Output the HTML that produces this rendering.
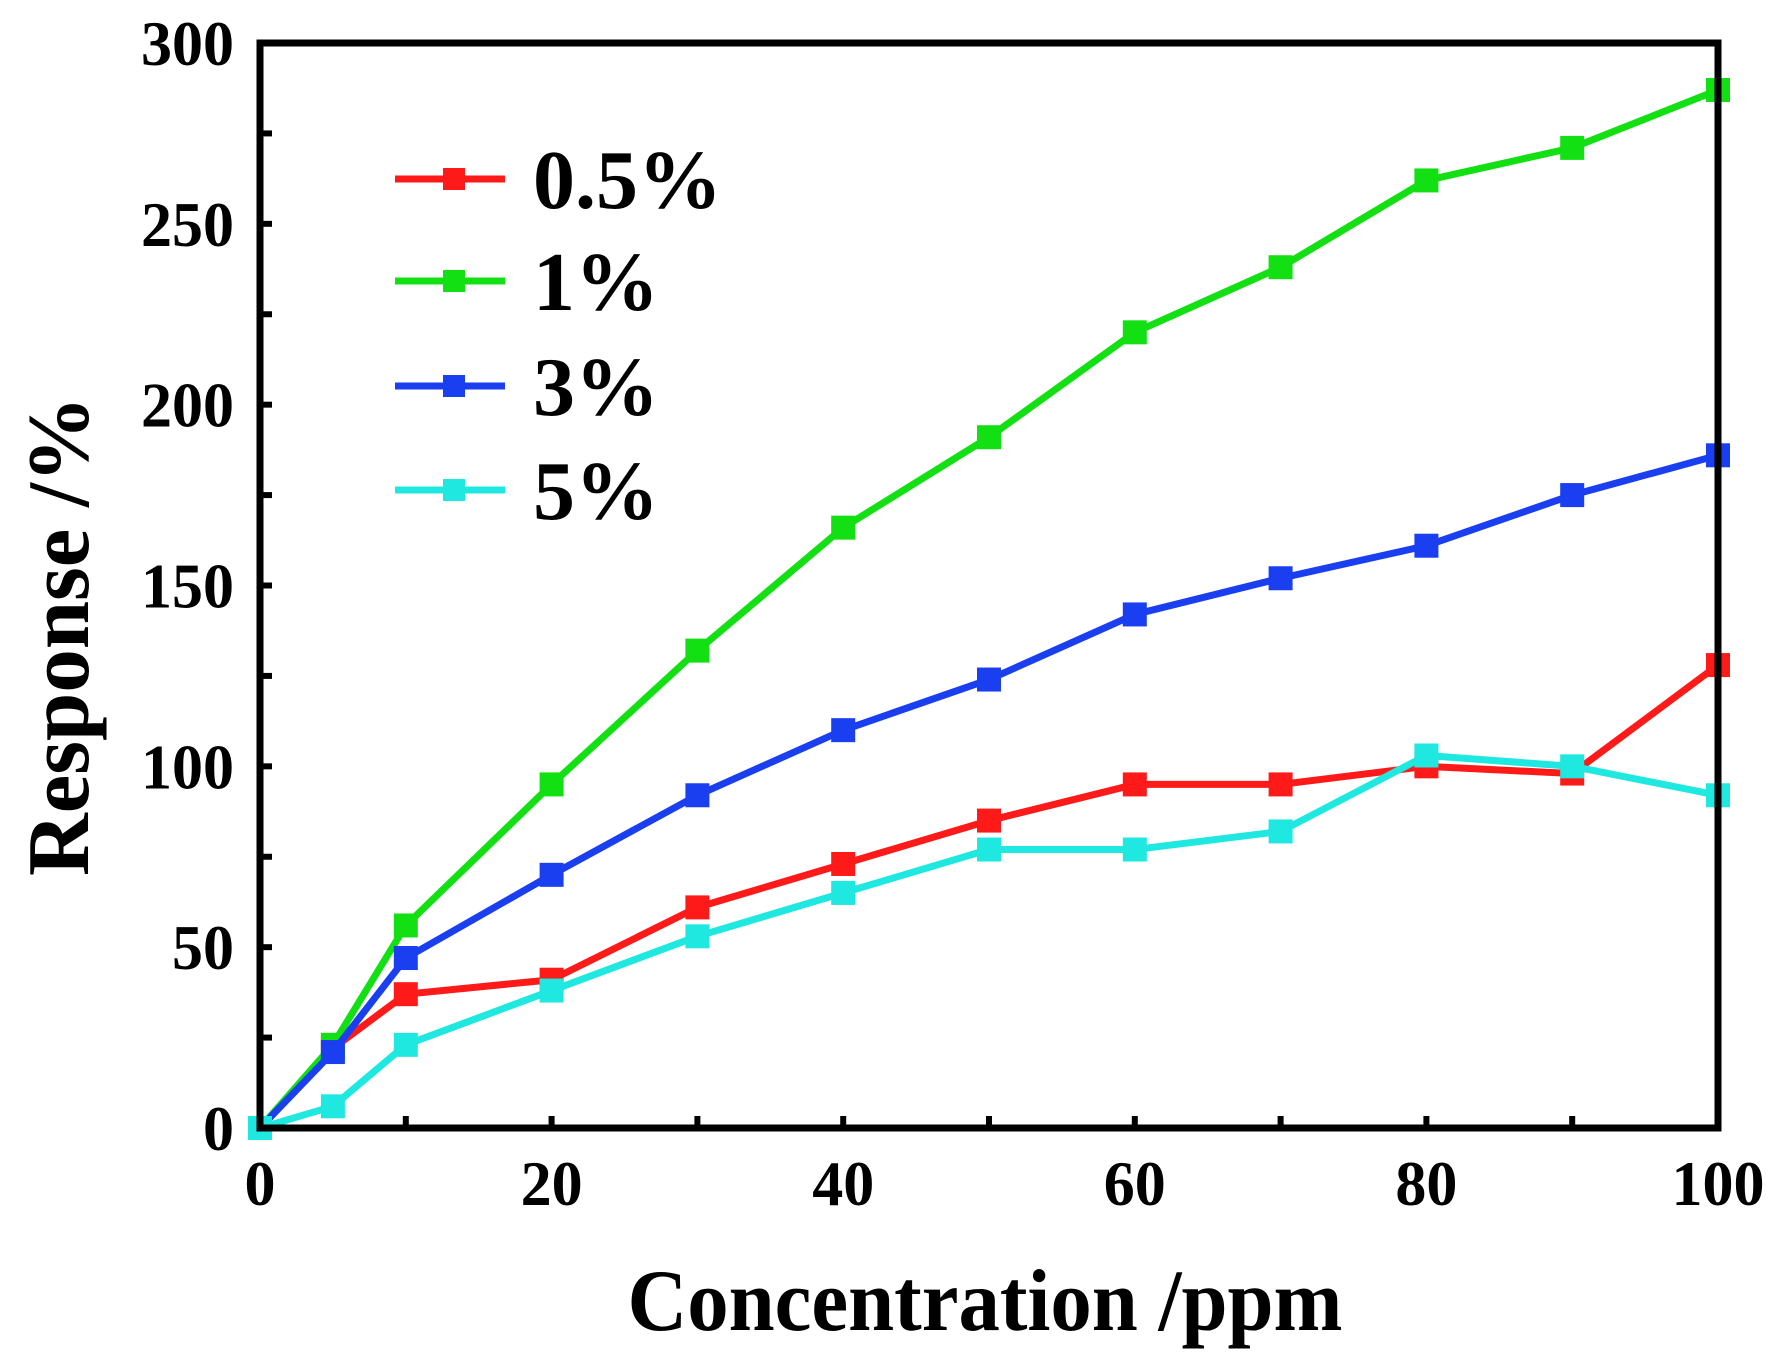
<!DOCTYPE html>
<html><head><meta charset="utf-8"><style>
html,body{margin:0;padding:0;background:#fff;}
svg{display:block;}
text{font-family:"Liberation Serif",serif;font-weight:bold;fill:#000;}
</style></head><body>
<svg id="chart" width="1779" height="1367" viewBox="0 0 1779 1367" xmlns="http://www.w3.org/2000/svg">
<g id="ticks"></g>
<g id="series"></g>
<rect x="260" y="43" width="1458" height="1085" fill="none" stroke="#000" stroke-width="7"/>
<g id="labels"></g>
<text x="985" y="1330" font-size="88" text-anchor="middle" textLength="715" lengthAdjust="spacingAndGlyphs">Concentration /ppm</text>
<text transform="translate(88,636) rotate(-90)" font-size="88" text-anchor="middle" textLength="480" lengthAdjust="spacingAndGlyphs">Response /%</text>
<g id="legend"></g>
</svg>
<script>
const xCats = [0,5,10,20,30,40,50,60,70,80,90,100];
const s05 = [0,22,37,41,61,73,85,95,95,100,98,128];
const s1  = [0,23,56,95,132,166,191,220,238,262,271,287];
const s3  = [0,21,47,70,92,110,124,142,152,161,175,186];
const s5  = [0,6,23,38,53,65,77,77,82,103,100,92];
const seriesNames = ["0.5%","1%","3%","5%"];
const xTicks = [0,20,40,60,80,100];
const yTicks = [0,50,100,150,200,250,300];

const NS="http://www.w3.org/2000/svg";
const L=260,R=1718,T=43,B=1128;
const xs=v=>L+(v-0)/100*(R-L);
const ys=v=>B-(v-0)/300*(B-T);
function mk(tag,attrs,parent){const e=document.createElementNS(NS,tag);for(const k in attrs)e.setAttribute(k,attrs[k]);parent.appendChild(e);return e;}

const tg=document.getElementById('ticks');
for(let v=10;v<100;v+=10){const t=mk('line',{x1:xs(v),x2:xs(v),y1:B,y2:B-12,stroke:'#000','stroke-width':6},tg);

}
for(let v=25;v<300;v+=25){const t=mk('line',{x1:L,x2:L+12,y1:ys(v),y2:ys(v),stroke:'#000','stroke-width':6},tg);

}

const lg=document.getElementById('labels');
xTicks.forEach(v=>{const s=String(v);const t=mk('text',{x:xs(v),y:1205,'font-size':64,'text-anchor':'middle',textLength:s.length*31,lengthAdjust:'spacingAndGlyphs'},lg);t.textContent=s;

});
yTicks.forEach(v=>{const s=String(v);const t=mk('text',{x:234-s.length*31,y:ys(v)+22,'font-size':64,textLength:s.length*31,lengthAdjust:'spacingAndGlyphs'},lg);t.textContent=s;

});

const colors=["#ff1a1a","#12e012","#1a3ff0","#1ee8e0"];
const data=[s05,s1,s3,s5];
const sg=document.getElementById('series');
data.forEach((arr,i)=>{
  const g=mk('g',{},sg);
  
  
  const pts=arr.map((v,j)=>xs(xCats[j])+','+ys(v)).join(' ');
  const pl=mk('polyline',{points:pts,fill:'none',stroke:colors[i],'stroke-width':7,'stroke-linejoin':'round'},g);
  
  
  arr.forEach((v,j)=>{const r=mk('rect',{x:xs(xCats[j])-12,y:ys(v)-12,width:24,height:24,fill:colors[i]},g);
  
  });
});

const leg=document.getElementById('legend');
const rows=[179,281,386,490];
seriesNames.forEach((n,i)=>{
  const g=mk('g',{},leg);
  
  
  mk('line',{x1:395,x2:505,y1:rows[i],y2:rows[i],stroke:colors[i],'stroke-width':7},g);
  mk('rect',{x:443,y:rows[i]-11,width:22,height:22,fill:colors[i]},g);
  const t=mk('text',{x:533,y:rows[i]+29,'font-size':84},g);t.textContent=n;
});
</script>
</body></html>
